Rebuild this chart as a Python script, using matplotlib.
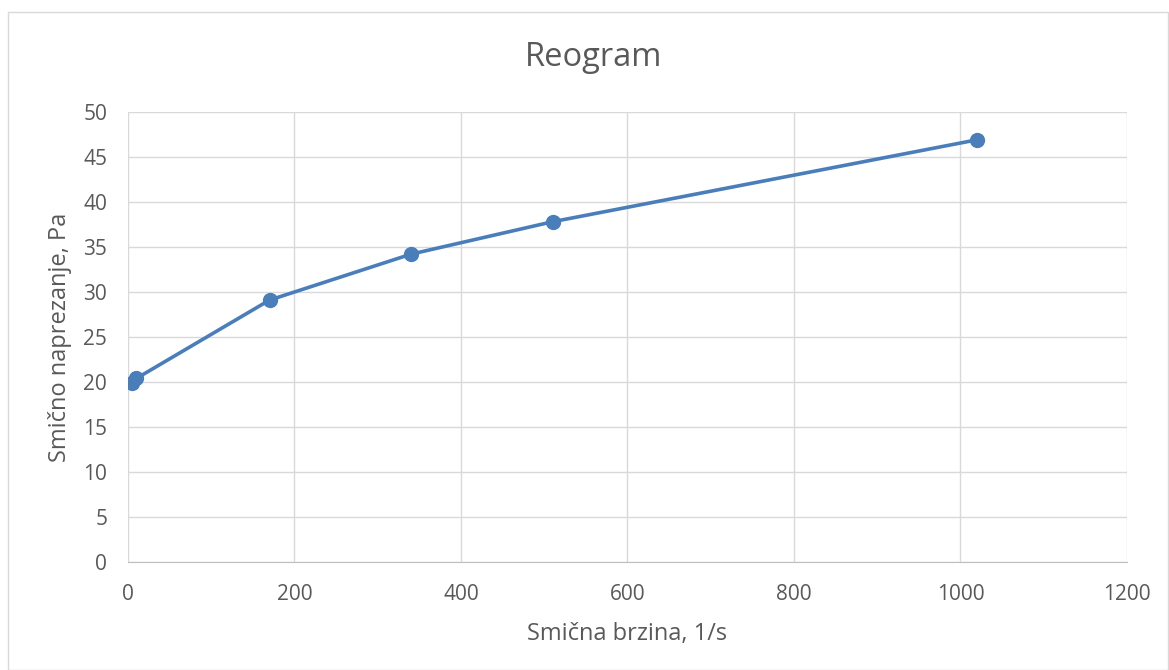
import matplotlib.pyplot as plt
from matplotlib.patches import Rectangle

shear_rate = [5, 10, 170, 340, 510, 1020]
shear_stress = [19.9, 20.4, 29.1, 34.2, 37.8, 46.9]

plt.rcParams['font.family'] = ['Open Sans', 'DejaVu Sans']

fig = plt.figure(figsize=(11.69, 6.70), dpi=100)
ax = fig.add_axes([0.1095, 0.161, 0.8545, 0.672])

# outer chart border
fig.patches.append(Rectangle((8 / 1169, 0), 1 - 9 / 1169, 1 - 12 / 670,
                             transform=fig.transFigure, fill=False,
                             edgecolor='#d9d9d9', linewidth=1))

ax.plot(shear_rate, shear_stress, color='#4a7ebb', linewidth=2.6,
        marker='o', markersize=10)

ax.set_xlim(0, 1200)
ax.set_ylim(0, 50)
ax.set_xticks(range(0, 1201, 200))
ax.set_yticks(range(0, 51, 5))
ax.grid(True, color='#d9d9d9', linewidth=1)
ax.set_axisbelow(True)
for s in ['top', 'right', 'left']:
    ax.spines[s].set_visible(False)
ax.spines['bottom'].set_color('#bfbfbf')
ax.tick_params(length=0, labelsize=15, labelcolor='#595959')
ax.tick_params(axis='x', pad=16)
ax.tick_params(axis='y', pad=15)

fig.text(594 / 1169, 1 - 57 / 670, 'Reogram', fontsize=23.5, color='#595959',
         ha='center', va='center')
ax.set_xlabel('Smična brzina, 1/s', fontsize=17, color='#595959', labelpad=12)
ax.set_ylabel('Smično naprezanje, Pa', fontsize=17, color='#595959', labelpad=8)

fig.savefig('out.png', dpi=100)
